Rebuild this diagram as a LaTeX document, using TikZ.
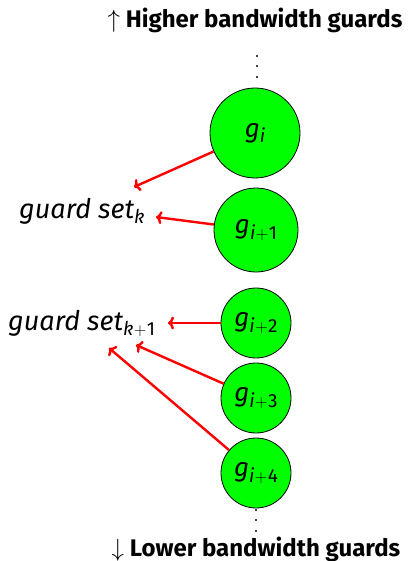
\documentclass[tikz,border=0pt]{standalone}
\usepackage{fontspec}
\setmainfont{Fira Sans}
\usetikzlibrary{arrows.meta}
\newcommand\gsubx[1]{\textit{g}\raisebox{-0.22em}{\fontsize{19}{22}\selectfont #1}}
\newcommand\pls{\kern0.5pt$+$\kern0.5pt}
\begin{document}
\begin{tikzpicture}[x=1pt,y=-1pt,
 guard/.style={circle,draw=black,fill=green,line width=0.8pt,inner sep=0pt,font=\fontsize{26}{30}\selectfont},
 edge/.style={draw=red,line width=2.4pt,-{To[length=6pt,width=13pt]}},
 lbl/.style={font=\fontsize{27}{30}\selectfont\itshape,inner sep=0pt},
 head/.style={font=\fontsize{24}{26}\selectfont\bfseries,inner sep=0pt},
 vdot/.style={circle,fill=black,inner sep=0pt,minimum size=2.4pt}]
\useasboundingbox (0,0) rectangle (407,561);
\node[head] (top) at (255,20) {$\uparrow$ Higher bandwidth guards};
\node[head] (bot) at (256,549) {$\downarrow$ Lower bandwidth guards};
\node[vdot] (t1) at (257,56) {};
\node[vdot] (t2) at (257,66) {};
\node[vdot] (t3) at (257,77) {};
\node[vdot] (b1) at (256,510) {};
\node[vdot] (b2) at (256,520) {};
\node[vdot] (b3) at (256,531) {};
\node[guard,minimum size=90pt] (g0) at (255,133) {\gsubx{\textit{i}}};
\node[guard,minimum size=84pt] (g1) at (256,230) {\gsubx{\textit{i}\pls1}};
\node[guard,minimum size=70pt] (g2) at (256,323) {\gsubx{\textit{i}\pls2}};
\node[guard,minimum size=70pt] (g3) at (256,398) {\gsubx{\textit{i}\pls3}};
\node[guard,minimum size=70pt] (g4) at (256,473) {\gsubx{\textit{i}\pls4}};
\node[lbl,anchor=base west] (sk) at (19,218) {guard set\raisebox{-0.22em}{\fontsize{19}{22}\selectfont\itshape k}};
\node[lbl,anchor=base west] (sk1) at (8,330) {guard set\raisebox{-0.22em}{\fontsize{19}{22}\selectfont\textit{k}\upshape\pls1}};
\coordinate (a0) at (134,187);
\coordinate (a1) at (156,217);
\coordinate (a2) at (168,323);
\coordinate (a3) at (136,345);
\coordinate (a4) at (109,348);
\draw[edge] (g0) -- (a0);
\draw[edge] (g1) -- (a1);
\draw[edge] (g2) -- (a2);
\draw[edge] (g3) -- (a3);
\draw[edge] (g4) -- (a4);
\end{tikzpicture}
\end{document}
